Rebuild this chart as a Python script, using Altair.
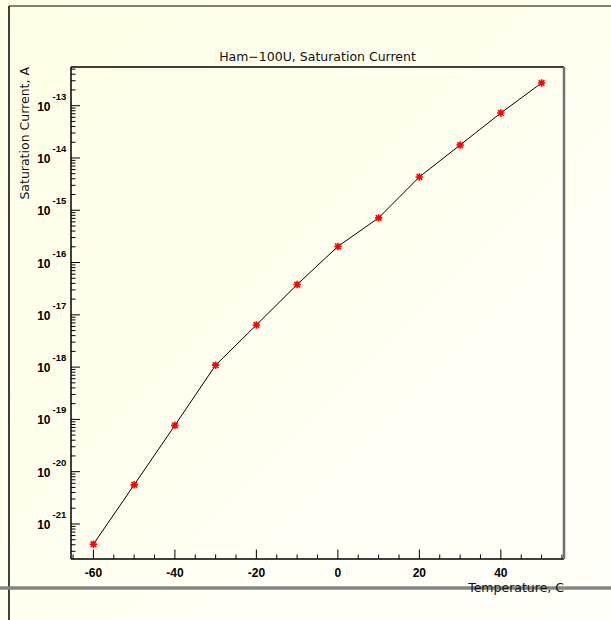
import altair as alt
import pandas as pd

# ---- data ----
temperature = [-60, -50, -40, -30, -20, -10, 0, 10, 20, 30, 40, 50]
sat_current = [4.1e-22, 5.6e-21, 7.7e-20, 1.09e-18, 6.4e-18, 3.8e-17,
               2.03e-16, 7.15e-16, 4.33e-15, 1.77e-14, 7.25e-14, 2.72e-13]
x_major_ticks = [-60, -40, -20, 0, 20, 40]
x_minor_ticks = [-65, -55, -50, -45, -35, -30, -25, -15, -10, -5, 5, 10, 15, 25, 30, 35, 45, 50, 55]
y_decades = [-21, -20, -19, -18, -17, -16, -15, -14, -13]
title_text = "Ham\u2212100U, Saturation Current"
x_title = "Temperature, C"
y_title = "Saturation Current, A"

W, H = 493, 492
X_DOMAIN = [-65.5, 55.5]
Y_DOMAIN = [10 ** -21.67, 10 ** -12.26]

xs = alt.Scale(domain=X_DOMAIN, nice=False, zero=False)
ys = alt.Scale(type="log", domain=Y_DOMAIN, nice=False)

df = pd.DataFrame({"T": temperature, "I": sat_current})
major_y = pd.DataFrame({"v": [10.0 ** d for d in y_decades],
                        "e": [str(d) for d in y_decades]})
minor_vals = []
for d in range(-22, -12):
    for m in range(2, 10):
        v = m * 10.0 ** d
        if Y_DOMAIN[0] <= v <= Y_DOMAIN[1]:
            minor_vals.append(v)
minor_y = pd.DataFrame({"v": minor_vals})
xmaj = pd.DataFrame({"t": x_major_ticks, "lab": [str(t) for t in x_major_ticks]})
xmin = pd.DataFrame({"t": x_minor_ticks})
one = pd.DataFrame({"a": [0]})

# background gradient
bg = alt.Chart(one).mark_rect(
    color=alt.LinearGradient(
        gradient="linear", x1=0, y1=0, x2=1, y2=1,
        stops=[alt.GradientStop(color="#FFFFE6", offset=0),
               alt.GradientStop(color="#FFFFFA", offset=1)])
).encode(x=alt.value(-71), x2=alt.value(540), y=alt.value(-67), y2=alt.value(553))

# outer frame
frame_top = alt.Chart(one).mark_rule(color="#80806f", strokeWidth=2).encode(
    x=alt.value(-62), x2=alt.value(540), y=alt.value(-61))
frame_left = alt.Chart(one).mark_rule(color="#000000", strokeWidth=1.5).encode(
    x=alt.value(-62), y=alt.value(-61), y2=alt.value(553))
grey_bar = alt.Chart(one).mark_rule(color="#858585", strokeWidth=3.5).encode(
    x=alt.value(-71), x2=alt.value(540), y=alt.value(521))

# plot frame
pf_left = alt.Chart(one).mark_rule(color="black", strokeWidth=1.5).encode(
    x=alt.value(0), y=alt.value(0), y2=alt.value(H))
pf_top = alt.Chart(one).mark_rule(color="black", strokeWidth=1.5).encode(
    x=alt.value(0), x2=alt.value(W), y=alt.value(0))
pf_bottom = alt.Chart(one).mark_rule(color="black", strokeWidth=1.5).encode(
    x=alt.value(0), x2=alt.value(W), y=alt.value(H))
pf_right = alt.Chart(one).mark_rule(color="#707070", strokeWidth=2.5).encode(
    x=alt.value(W), y=alt.value(0), y2=alt.value(H))

# ticks
ymaj_ticks = alt.Chart(major_y).mark_rule(color="black", strokeWidth=1).encode(
    y=alt.Y("v:Q", scale=ys, axis=None), x=alt.value(0), x2=alt.value(9))
ymin_ticks = alt.Chart(minor_y).mark_rule(color="black", strokeWidth=1).encode(
    y=alt.Y("v:Q", scale=ys, axis=None), x=alt.value(0), x2=alt.value(4.5))
xmaj_ticks = alt.Chart(xmaj).mark_rule(color="black", strokeWidth=1).encode(
    x=alt.X("t:Q", scale=xs, axis=None), y=alt.value(H), y2=alt.value(H - 9.5))
xmin_ticks = alt.Chart(xmin).mark_rule(color="black", strokeWidth=1).encode(
    x=alt.X("t:Q", scale=xs, axis=None), y=alt.value(H), y2=alt.value(H - 4.5))

# data
line = alt.Chart(df).mark_line(color="black", strokeWidth=1).encode(
    x=alt.X("T:Q", scale=xs, axis=None), y=alt.Y("I:Q", scale=ys, axis=None))
star = "M-1,0L1,0M0,-1L0,1M-0.75,-0.75L0.75,0.75M-0.75,0.75L0.75,-0.75"
pts = alt.Chart(df).mark_point(shape=star, filled=False, color="#FF0000",
                               strokeWidth=1.6, size=56, opacity=1).encode(
    x=alt.X("T:Q", scale=xs, axis=None), y=alt.Y("I:Q", scale=ys, axis=None))

# tick labels
ten = alt.Chart(major_y).mark_text(text="10", align="right", baseline="middle",
                                   font="Liberation Sans", fontWeight="bold",
                                   fontSize=12, color="black", dy=1).encode(
    y=alt.Y("v:Q", scale=ys, axis=None), x=alt.value(-20.5))
expo = alt.Chart(major_y).mark_text(align="left", baseline="middle",
                                    font="Liberation Sans", fontWeight="bold",
                                    fontSize=9.5, color="black", dy=-9).encode(
    y=alt.Y("v:Q", scale=ys, axis=None), x=alt.value(-18.5), text="e:N")
xlabels = alt.Chart(xmaj).mark_text(align="center", baseline="middle",
                                    font="Liberation Sans", fontWeight="bold",
                                    fontSize=12, color="black").encode(
    x=alt.X("t:Q", scale=xs, axis=None), y=alt.value(H + 13.5), text="lab:N")

# titles
ttl = alt.Chart(pd.DataFrame({"s": [title_text]})).mark_text(
    align="center", baseline="middle", font="DejaVu Sans", fontSize=12.5,
    color="#111111").encode(x=alt.value(246.5), y=alt.value(-10), text="s:N")
xt = alt.Chart(pd.DataFrame({"s": [x_title]})).mark_text(
    align="right", baseline="middle", font="DejaVu Sans", fontSize=12.5,
    color="#111111").encode(x=alt.value(W), y=alt.value(521), text="s:N")
yt = alt.Chart(pd.DataFrame({"s": [y_title]})).mark_text(
    align="right", baseline="middle", font="DejaVu Sans", fontSize=12.5, angle=270,
    color="#111111").encode(x=alt.value(-46.5), y=alt.value(0), text="s:N")

chart = alt.layer(
    bg, frame_top, frame_left, grey_bar,
    ymin_ticks, ymaj_ticks, xmin_ticks, xmaj_ticks,
    line, pts,
    pf_left, pf_top, pf_bottom, pf_right,
    ten, expo, xlabels, ttl, xt, yt
).properties(
    width=W, height=H,
    padding={"left": 71, "top": 67, "right": 47, "bottom": 61},
    autosize=alt.AutoSizeParams(type="none"),
    background="#FFFFEE"
).configure_view(stroke=None, fill=None)

chart.save("out.html", embed_options={"renderer": "svg", "actions": False})
